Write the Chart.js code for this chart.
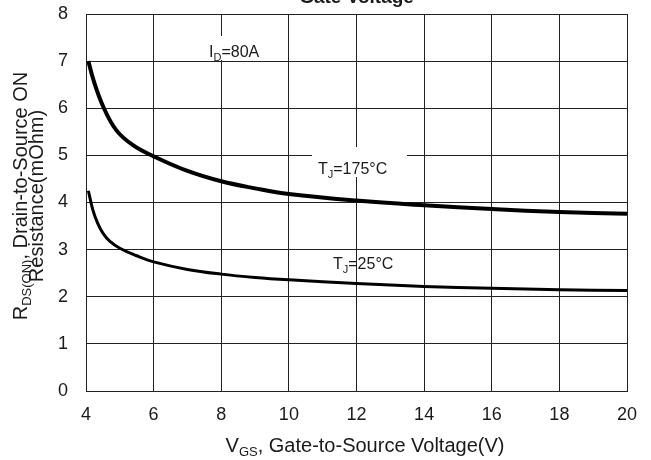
<!DOCTYPE html>
<html>
<head>
<meta charset="utf-8">
<script src="https://cdn.jsdelivr.net/npm/chart.js@4/dist/chart.umd.min.js"></script>
<style>
  body { margin: 0; background: #fff; }
</style>
</head>
<body>
<canvas id="myChart" width="651" height="460"></canvas>
<script>
'use strict';

// curves, Tj = 175 C and Tj = 25 C
let vgs175 = [4.07, 4.22, 4.5, 4.9, 5.4, 6, 7, 8, 9, 10, 12, 14, 16, 18, 20];
let rds175 = [7.0, 6.6, 6.05, 5.53, 5.21, 4.98, 4.67, 4.45, 4.3, 4.18, 4.04, 3.94, 3.86, 3.8, 3.76];
let vgs25 = [4.07, 4.2, 4.35, 4.5, 4.7, 5, 5.5, 6, 7, 8, 9, 10, 12, 14, 16, 18, 20];
let rds25 = [4.25, 3.85, 3.55, 3.35, 3.18, 3.03, 2.87, 2.74, 2.58, 2.48, 2.41, 2.36, 2.28, 2.22, 2.18, 2.15, 2.13];

let xTicks = [4, 6, 8, 10, 12, 14, 16, 18, 20];
let yTicks = [0, 1, 2, 3, 4, 5, 6, 7, 8];

let fontFam = "'Liberation Sans', Arial, sans-serif";
let ink = '#1a1a1a';
let gridColor = '#222';

function toPoints(xs, ys) {
    let pts = [];
    for (let i = 0; i < xs.length; i++) {
        pts.push({ x: xs[i], y: ys[i] });
    }
    return pts;
}

// text pieces: [text, isSubscript]
function partsWidth(ctx, parts, size, subSize) {
    let w = 0;
    for (let i = 0; i < parts.length; i++) {
        ctx.font = (parts[i][1] ? subSize : size) + 'px ' + fontFam;
        w += ctx.measureText(parts[i][0]).width;
    }
    return w;
}

function drawParts(ctx, parts, x, y, size, subSize, drop) {
    ctx.textAlign = 'left';
    ctx.textBaseline = 'alphabetic';
    ctx.fillStyle = ink;
    for (let i = 0; i < parts.length; i++) {
        ctx.font = (parts[i][1] ? subSize : size) + 'px ' + fontFam;
        ctx.fillText(parts[i][0], x, parts[i][1] ? y + drop : y);
        x += ctx.measureText(parts[i][0]).width;
    }
}

let textPlugin = {
    id: 'textPlugin',
    afterDraw(chart) {
        let ctx = chart.ctx;
        let area = chart.chartArea;
        ctx.save();

        // cut-off title
        ctx.font = 'bold 19px ' + fontFam;
        ctx.fillStyle = ink;
        ctx.textAlign = 'center';
        ctx.textBaseline = 'alphabetic';
        ctx.fillText('Gate Voltage', (area.left + area.right) / 2, 3);

        // white boxes behind labels
        ctx.fillStyle = '#fff';
        ctx.fillRect(200, 36, 70, 24);
        ctx.fillRect(312, 147, 95, 30);

        drawParts(ctx, [['I', false], ['D', true], ['=80A', false]], 209, 57, 16, 11, 4);
        drawParts(ctx, [['T', false], ['J', true], ['=175\u00B0C', false]], 318, 174, 16, 11, 4);
        drawParts(ctx, [['T', false], ['J', true], ['=25\u00B0C', false]], 333, 269, 16, 11, 4);

        // x axis title
        let xParts = [['V', false], ['GS', true], [', Gate-to-Source Voltage(V)', false]];
        let xw = partsWidth(ctx, xParts, 20, 13);
        drawParts(ctx, xParts, 365 - xw / 2, 452, 20, 13, 4);

        // y axis title, two lines
        let l1 = [['R', false], ['DS(ON)', true], [', Drain-to-Source ON', false]];
        let l2 = [['Resistance(mOhm)', false]];
        ctx.translate(27, 196);
        ctx.rotate(-Math.PI / 2);
        let w1 = partsWidth(ctx, l1, 20, 13);
        drawParts(ctx, l1, -w1 / 2, 0, 20, 13, 4);
        let w2 = partsWidth(ctx, l2, 20, 13);
        drawParts(ctx, l2, -w2 / 2, 16, 20, 13, 4);

        ctx.restore();
    }
};

let ctx = document.getElementById('myChart').getContext('2d');

let myChart = new Chart(ctx, {
    type: 'line',
    data: {
        datasets: [{
            label: 'TJ=175C',
            data: toPoints(vgs175, rds175),
            borderColor: '#000',
            borderWidth: 4,
            pointRadius: 0,
            tension: 0.4,
            fill: false
        }, {
            label: 'TJ=25C',
            data: toPoints(vgs25, rds25),
            borderColor: '#000',
            borderWidth: 3,
            pointRadius: 0,
            tension: 0.4,
            fill: false
        }]
    },
    options: {
        responsive: false,
        devicePixelRatio: 1,
        animation: false,
        layout: {
            padding: { top: 14, right: 24, bottom: 0, left: 0 }
        },
        plugins: {
            legend: { display: false },
            tooltip: { enabled: false }
        },
        scales: {
            x: {
                type: 'linear',
                min: 4,
                max: 20,
                afterBuildTicks: function (scale) {
                    scale.ticks = xTicks.map(v => ({ value: v }));
                },
                afterFit: function (scale) {
                    scale.height = 69;
                    scale.paddingLeft = 0;
                    scale.paddingRight = 0;
                },
                ticks: {
                    font: { family: fontFam, size: 18 },
                    color: ink,
                    padding: 13,
                    maxRotation: 0
                },
                grid: { color: gridColor, lineWidth: 1, drawTicks: false },
                border: { color: gridColor, width: 1 }
            },
            y: {
                min: 0,
                max: 8,
                afterBuildTicks: function (scale) {
                    scale.ticks = yTicks.map(v => ({ value: v }));
                },
                afterFit: function (scale) {
                    scale.width = 86;
                    scale.paddingTop = 0;
                    scale.paddingBottom = 0;
                },
                ticks: {
                    font: { family: fontFam, size: 18 },
                    color: ink,
                    padding: 18
                },
                grid: { color: gridColor, lineWidth: 1, drawTicks: false },
                border: { color: gridColor, width: 1 }
            }
        }
    },
    plugins: [textPlugin]
});
</script>
</body>
</html>
